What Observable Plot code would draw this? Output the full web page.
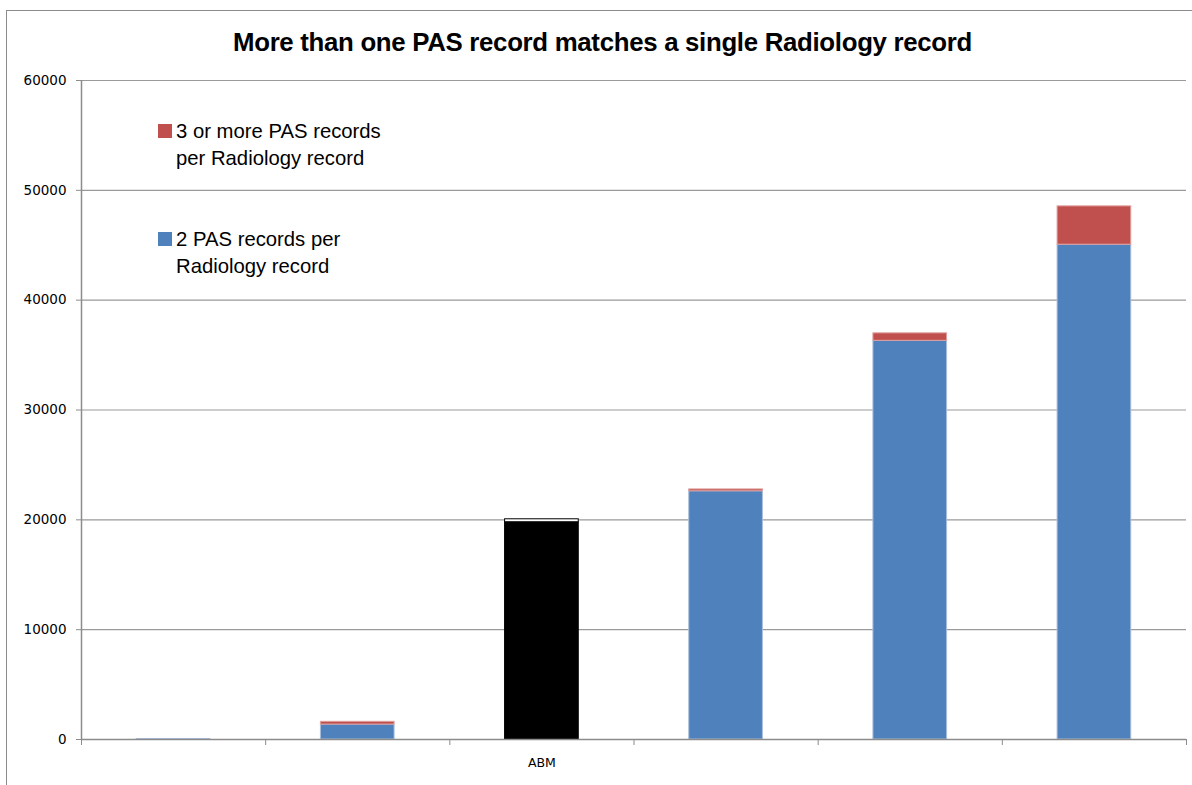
<!DOCTYPE html>
<html><head><meta charset="utf-8">
<script src="https://cdn.jsdelivr.net/npm/d3@7"></script>
<script src="https://cdn.jsdelivr.net/npm/@observablehq/plot@0.6"></script>
<style>
body{margin:0;background:#fff;width:1192px;height:785px;overflow:hidden;position:relative;font-family:"Liberation Sans",Arial,sans-serif}
#frame{position:absolute;left:6px;top:10px;width:1300px;height:900px;border-left:1.5px solid #8c8c8c;border-top:1.5px solid #8c8c8c}
#title{position:absolute;left:0;width:1205px;top:28px;text-align:center;font-weight:bold;font-size:25.8px;letter-spacing:-0.3px;color:#000;white-space:nowrap}
#chart{position:absolute;left:0;top:60px}
.lg{position:absolute;left:158px;font-size:20.3px;line-height:27px;color:#000}
.lg .sw{position:absolute;left:0;top:6px;width:14px;height:14px}
.lg .tx{position:absolute;left:18px;top:0;white-space:nowrap}
</style></head>
<body>
<div id="frame"></div>
<div id="title"></div>
<div id="chart"></div>
<div id="legend"></div>
<script>
const title = "More than one PAS record matches a single Radiology record";
const categoryLabels = ["", "", "ABM", "", "", ""];
const twoRecords = [40, 1360, 19780, 22600, 36300, 45050];
const threeOrMore = [0, 250, 270, 170, 680, 3490];
const yTicks = [0, 10000, 20000, 30000, 40000, 50000, 60000];
const seriesNames = ["3 or more PAS records\nper Radiology record", "2 PAS records per\nRadiology record"];
const highlight = "ABM";

const blue = "#4F81BD", red = "#C0504D";

document.getElementById("title").textContent = title;

const rows = [];
categoryLabels.forEach((c, i) => {
  const hl = c === highlight;
  rows.push({i, y1: 0, y2: twoRecords[i], fill: hl ? "#000" : blue, stroke: hl ? "#000" : "#a9bedb"});
  rows.push({i, y1: twoRecords[i], y2: twoRecords[i] + threeOrMore[i], fill: hl ? "#fff" : red, stroke: hl ? "#000" : "#e0a09e"});
});
const visibleRows = rows.filter(r => r.y2 > r.y1);

const plot = Plot.plot({
  width: 1192,
  height: 725,
  marginTop: 20,
  marginBottom: 46,
  marginLeft: 81,
  marginRight: 6,
  style: {fontFamily: "DejaVu Sans", fontSize: "12px", background: "transparent"},
  x: {type: "linear", domain: [0, categoryLabels.length], axis: null},
  y: {domain: [0, 60000], axis: null},
  marks: [
    Plot.ruleY(yTicks.filter(d => d > 0), {stroke: "#9a9a9a", strokeWidth: 1.2}),
    Plot.rect(visibleRows, {x1: d => d.i + 0.3, x2: d => d.i + 0.7, y1: "y1", y2: "y2", fill: "fill", stroke: "stroke", strokeWidth: 1}),
    Plot.ruleY([0], {stroke: "#8c8c8c", strokeWidth: 1.5}),
    Plot.ruleX([0], {stroke: "#8c8c8c", strokeWidth: 1.5}),
    Plot.axisY({ticks: yTicks, tickSize: 5, tickPadding: 10, tickFormat: d => String(d), stroke: "#8c8c8c", color: "#000", fontSize: 13.5}),
    Plot.axisX({ticks: d3.range(categoryLabels.length + 1), tickSize: 6, tickFormat: () => "", stroke: "#8c8c8c"}),
    Plot.axisX({ticks: d3.range(categoryLabels.length).map(i => i + 0.5), tickSize: 0, tickPadding: 19, tickFormat: d => categoryLabels[Math.floor(d)], color: "#000", fontSize: 12.5})
  ]
});
document.getElementById("chart").appendChild(plot);

const legend = document.getElementById("legend");
const legendColors = [red, blue];
const legendTops = [118, 226];
seriesNames.forEach((name, k) => {
  const div = document.createElement("div");
  div.className = "lg";
  div.style.top = legendTops[k] + "px";
  const sw = document.createElement("div");
  sw.className = "sw";
  sw.style.background = legendColors[k];
  div.appendChild(sw);
  name.split("\n").forEach((line, j) => {
    const t = document.createElement("div");
    t.className = "tx";
    t.style.top = (j * 27) + "px";
    t.textContent = line;
    div.appendChild(t);
  });
  legend.appendChild(div);
});
</script>
</body></html>
